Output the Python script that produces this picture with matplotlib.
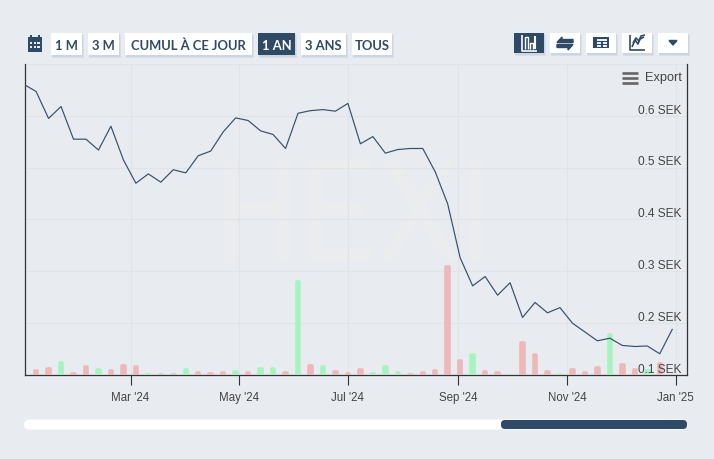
"""Stock chart with volume bars and range selector buttons."""
import matplotlib
matplotlib.use('Agg')
import matplotlib.pyplot as plt
import numpy as np
import pandas as pd
from matplotlib.patches import Rectangle, FancyBboxPatch, Polygon
from matplotlib.lines import Line2D
from matplotlib.transforms import Affine2D

W, H = 714, 459
BG = '#e8ebf0'
NAVY = '#2f4a66'
TEXT = '#444444'

prices = [0.661, 0.647, 0.595, 0.618, 0.555, 0.555, 0.534, 0.580, 0.515, 0.470,
          0.488, 0.472, 0.496, 0.490, 0.523, 0.532, 0.569, 0.596, 0.591, 0.571,
          0.564, 0.537, 0.605, 0.610, 0.612, 0.609, 0.624, 0.546, 0.560, 0.528,
          0.535, 0.537, 0.537, 0.492, 0.430, 0.326, 0.272, 0.290, 0.254, 0.278,
          0.211, 0.240, 0.220, 0.230, 0.200, 0.183, 0.166, 0.171, 0.157, 0.155,
          0.156, 0.141, 0.188]
volumes = [0, 5, 7, 13, 2, 9, 6, 5, 10, 9,
           1, 1.5, 1, 6, 3, 2, 3, 4, 3, 7,
           7, 3, 94, 10, 9, 4, 2, 6, 2, 9,
           3, 1, 3, 5, 109, 15, 21, 4, 3, 0,
           33, 21, 4, 1, 6, 3, 8, 41, 11, 6,
           5, 12, 0]
moves = list('nrrgrrgrrr'
             'gnngrrrgrg'
             'grgrgrrrgg'
             'grrrrrgrrn'
             'rrrgrrrgrr'
             'grn')
move_colors = {'r': '#ecb8ba', 'g': '#a7f3bf', 'n': '#c9cbce'}

dates = pd.date_range('2024-01-01', periods=len(prices), freq='7D')
tick_dates = pd.to_datetime(['2024-03-01', '2024-05-01', '2024-07-01',
                             '2024-09-01', '2024-11-01', '2025-01-01'])
tick_labels = ["Mar '24", "May '24", "Jul '24", "Sep '24", "Nov '24", "Jan '25"]
price_ticks = [0.1, 0.2, 0.3, 0.4, 0.5, 0.6, 0.7]
price_labels = ['0.1 SEK', '0.2 SEK', '0.3 SEK', '0.4 SEK', '0.5 SEK', '0.6 SEK']

range_buttons = ['1 M', '3 M', 'CUMUL À CE JOUR', '1 AN', '3 ANS', 'TOUS']
range_x = [(51, 82), (88, 119), (125, 252), (258, 295), (301, 346), (352, 392)]
active_range = '1 AN'
tool_x = [(514, 544), (550, 580), (586, 616), (622, 652), (658, 688)]

fig = plt.figure(figsize=(W / 100, H / 100), dpi=100, facecolor=BG)
PX = Affine2D().scale(1, -1).translate(0, H)

left, right, top, bottom = 24.5, 687, 64, 375
ax = fig.add_axes([left / W, 1 - bottom / H, (right - left) / W, (bottom - top) / H])
ax.set_facecolor(BG)
ax.set_xlim(pd.Timestamp('2024-01-01 12:00'), pd.Timestamp('2025-01-07 07:00'))
ax.set_ylim(0.1, 0.7)
ax.set_xticks(tick_dates, tick_labels)
ax.set_yticks(price_ticks)
ax.tick_params(axis='x', length=7.2, width=0.8, color='#333333', pad=5,
               labelsize=8.3, labelcolor=TEXT)
for lab in ax.get_xticklabels():
    lab.set_family('Liberation Sans')
ax.grid(True, color='#e1e3e6', lw=0.8)
ax.set_axisbelow(True)
ax.spines['top'].set_visible(False)
for s in ['left', 'right', 'bottom']:
    ax.spines[s].set_color('#333333')
    ax.spines[s].set_linewidth(0.9)
ax.text(0.497, 0.497, 'HEXI', transform=ax.transAxes, ha='center', va='center',
        family=['Archivo Narrow', 'Liberation Sans'], fontsize=105, color='#eaecee', zorder=0.5)

# volume bars, the thick round edge gives the rounded top
vol_ax = ax.twinx()
vol_ax.set_ylim(0, bottom - top)
vol_ax.axis('off')
shift = vol_ax.transData + Affine2D().translate(0, -1.3)
vol_ax.bar(dates, volumes, width=1.4, color=[move_colors[m] for m in moves],
           edgecolor=[move_colors[m] for m in moves], linewidth=2.6,
           joinstyle='round', transform=shift)
vol_ax.set_ylim(0, bottom - top)

line_ax = ax.twinx()
line_ax.set_ylim(0.1, 0.7)
line_ax.axis('off')
line_ax.plot(dates, prices, color='#34506e', lw=0.85)

# twinx puts the left ticks back
ax.tick_params(axis='y', left=False, right=False, labelleft=False, labelright=False)

for val, lab in zip(price_ticks, price_labels):
    line_ax.annotate(lab, xy=(1, val), xycoords=('axes fraction', 'data'),
                     xytext=(-4, 3.8), textcoords='offset points', ha='right',
                     va='center', fontsize=8.6, color=TEXT, family='Liberation Sans')


def box(x0, x1, y0, y1, color, **kw):
    fig.add_artist(Rectangle((x0, y0), x1 - x0, y1 - y0, transform=PX,
                             facecolor=color, edgecolor='none', **kw))


def stroke(xs, ys, color=NAVY, lw=1.0):
    fig.add_artist(Line2D(xs, ys, transform=PX, color=color, lw=lw,
                          solid_capstyle='butt'))


def button(x0, x1, y0, y1, active):
    box(x0 + 1, x1 + 2, y0 + 2, y1 + 3, '#d9dfe8')
    box(x0 + 1, x1 + 1, y0 + 1, y1 + 2, '#cdd5e0')
    box(x0, x1, y0, y1, NAVY if active else 'white')


for lab, (x0, x1) in zip(range_buttons, range_x):
    act = lab == active_range
    button(x0, x1, 33, 55, act)
    fig.text((x0 + x1) / 2, 45.5, lab, transform=PX, ha='center', va='center',
             family='Lato', weight='bold', fontsize=9.4,
             color='white' if act else NAVY)

for i, (x0, x1) in enumerate(tool_x):
    button(x0, x1, 33, 53, i == 0)

# calendar icon
box(28, 42, 37, 51.5, NAVY)
box(30, 32, 35, 38, NAVY)
box(38, 40, 35, 38, NAVY)
for yy in (42, 46):
    for xx in (30, 33.7, 37.4):
        box(xx, xx + 2.4, yy, yy + 2.4, BG)

# bar chart icon
stroke([522, 522, 537], [35, 50.5, 50.5], 'white', 1.2)
stroke([525, 525, 528, 528], [48.5, 37, 37, 48.5], 'white', 1.0)
stroke([530, 530, 533, 533], [48.5, 43, 43, 48.5], 'white', 1.0)
stroke([535, 535], [48.5, 36], 'white', 1.5)

# swap icon
fig.add_artist(Polygon([(557, 42.5), (562, 37), (562, 39.5), (573, 39.5), (573, 42.5)],
                       transform=PX, color=NAVY))
fig.add_artist(Polygon([(573, 44.5), (568, 50), (568, 47.5), (557, 47.5), (557, 44.5)],
                       transform=PX, color=NAVY))

# table icon
box(593, 609, 37, 48, NAVY)
box(597, 607, 39, 41, BG)
for xx in (597, 602.5):
    box(xx, xx + 4.4, 42.2, 44, BG)
    box(xx, xx + 4.4, 45, 46.6, BG)

# line chart icon
stroke([630, 630, 645], [35, 50, 50], NAVY, 1.2)
stroke([632, 635, 638, 640, 644], [47, 40, 44, 39, 37], NAVY, 1.2)
stroke([633, 636, 639, 641, 645], [43, 38, 41, 36, 35], NAVY, 1.2)

# dropdown arrow
fig.add_artist(Polygon([(669, 40.5), (677, 40.5), (673, 45)], transform=PX, color=NAVY))

# export menu
for yy in (73, 78, 83):
    stroke([621.5, 638], [yy, yy], '#666666', 1.9)
fig.text(682, 78, 'Export', transform=PX, ha='right', va='center', fontsize=9.2,
         color=TEXT, family='Liberation Sans')

# range scrollbar
fig.add_artist(FancyBboxPatch((24, 419.5), 663, 10, boxstyle='round,pad=0,rounding_size=5',
                              transform=PX, facecolor='white', edgecolor='none'))
fig.add_artist(FancyBboxPatch((501, 420), 186, 9, boxstyle='round,pad=0,rounding_size=4',
                              transform=PX, facecolor=NAVY, edgecolor='none'))

fig.savefig('out.png', dpi=100, facecolor=BG)
